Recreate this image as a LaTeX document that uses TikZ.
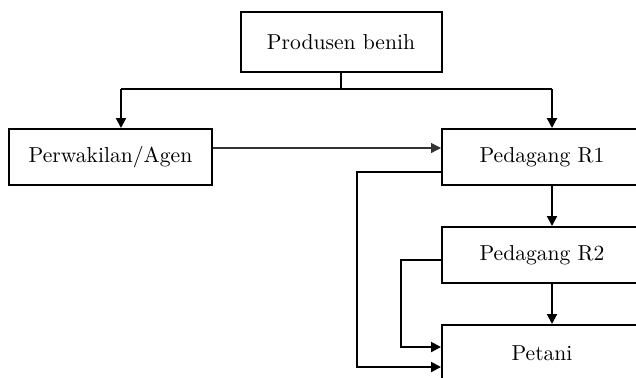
\documentclass[tikz,border=0pt]{standalone}
\usetikzlibrary{arrows.meta}
\tikzset{every picture/.style = {x=0.5pt, y=-0.5pt, line width=1pt, font=\fontsize{10.8}{13}\selectfont}}
\tikzset{box/.style = {draw, line width=1pt, inner sep=0pt, minimum height=28pt, minimum width=100pt}}
\tikzset{flow/.style = {-{Triangle[length=5pt, width=5pt]}}}
\tikzset{thinflow/.style = {flow, line width=0.6pt, black!80}}

\begin{document}
\begin{tikzpicture}
  \useasboundingbox (0,0) rectangle (636,377);
  \clip (0,0) rectangle (636,377);
  % boxes
  \node[box, minimum width=100.5pt, minimum height=30pt] (prod) at (341,42) {Produsen benih};
  \node[box, minimum width=101.5pt] (agen) at (110.5,157) {Perwakilan/Agen};
  \node[box] (r1) at (542,157) {Pedagang R1};
  \node[box] (r2) at (542,255) {Pedagang R2};
  \node[box] (petani) at (542,353) {Petani};
  % fork below the producer
  \coordinate (forkL) at (121,89);
  \coordinate (forkR) at (552,89);
  \draw (prod.south) -- (prod.south |- forkL);
  \draw (forkL) -- (forkR);
  \draw[flow] (forkL) -- (forkL |- agen.north);
  \draw[flow] (forkR) -- (forkR |- r1.north);
  % trade flows
  \draw[thinflow] ([yshift=4.5pt]agen.east) -- ([yshift=4.5pt]r1.west);
  \draw[flow] (r1.south -| forkR) -- (r2.north -| forkR);
  \draw[flow] (r2.south -| forkR) -- (petani.north -| forkR);
  \draw[flow] ([yshift=-7.5pt]r1.west) -- ++(-84,0) |- ([yshift=-7pt]petani.west);
  \draw[flow] ([yshift=-2.5pt]r2.west) -- ++(-40,0) |- ([yshift=3pt]petani.west);
\end{tikzpicture}
\end{document}
